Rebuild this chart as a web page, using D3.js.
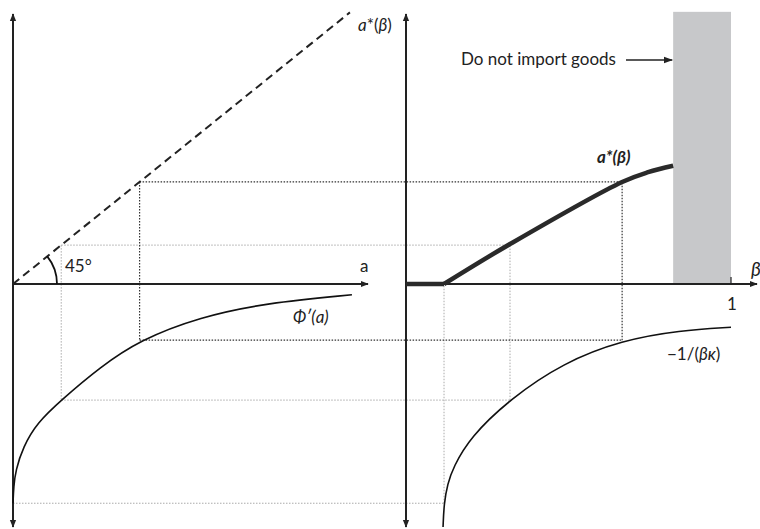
<!DOCTYPE html>
<html>
<head>
<meta charset="utf-8">
<script src="https://cdn.jsdelivr.net/npm/d3@7"></script>
<style>
  body { margin: 0; background: #fff; }
  svg { display: block; }
  text { font-family: Lato, "Open Sans", sans-serif; fill: #222; }
</style>
</head>
<body>
<div id="chart"></div>
<script>
// --- data --------------------------------------------------------------- //

// left panel: marginal cost Phi'(a), points [a, value]
var phiPoints = [[0, -4.06], [0.01, -3.75], [0.04, -3.45], [0.15, -3.02], [0.36, -2.57], [0.72, -2.15],
                 [1.30, -1.54], [1.89, -1.04], [2.79, -0.61], [3.79, -0.35], [5.06, -0.20]];

// 45 degree line a* = a
var diagPoints = [[0, 0], [5.03, 5.03]];

// right panel: a*(beta), points [beta, a*]
var aStarFlat = [[0, 0], [0.117, 0]];
var aStarRise = [[0.117, 0], [0.32, 0.74], [0.665, 1.89], [0.745, 2.07], [0.822, 2.19]];

// right panel: -1/(beta kappa), points [beta, value]
var hypPoints = [[0.114, -4.5], [0.117, -4.06], [0.128, -3.70], [0.145, -3.40], [0.197, -2.84], [0.32, -2.13],
                 [0.483, -1.46], [0.665, -1.04], [0.843, -0.86], [1.0, -0.80]];

// construction lines: a on the left, matching beta on the right
var guideA = [0, 0.72, 1.89];
var guideBeta = [0.117, 0.32, 0.665];
var guidePhi = [-4.06, -2.15, -1.04];

// region with no imports
var noImport = [0.822, 1.0];

// --- layout -------------------------------------------------------------- //

var width = 760, height = 529;

var y = d3.scaleLinear().domain([-4.5, 5.0]).range([527, 14]);
var xa = d3.scaleLinear().domain([0, 5.3]).range([13, 368]);
var xb = d3.scaleLinear().domain([0, 1]).range([406, 731]);

var svg = d3.select('#chart').append('svg')
    .attr('width', width)
    .attr('height', height);

var defs = svg.append('defs');
defs.append('marker')
    .attr('id', 'arrow')
    .attr('viewBox', '0 0 10 10')
    .attr('refX', 9).attr('refY', 5)
    .attr('markerWidth', 4).attr('markerHeight', 4)
    .attr('markerUnits', 'strokeWidth')
    .attr('orient', 'auto-start-reverse')
    .append('path')
    .attr('d', 'M0,1 L10,5 L0,9 z')
    .attr('fill', '#222');

defs.append('marker')
    .attr('id', 'arrowThin')
    .attr('viewBox', '0 0 10 10')
    .attr('refX', 9).attr('refY', 5)
    .attr('markerWidth', 7).attr('markerHeight', 7)
    .attr('markerUnits', 'strokeWidth')
    .attr('orient', 'auto')
    .append('path')
    .attr('d', 'M0,1.5 L10,5 L0,8.5 z')
    .attr('fill', '#222');

// --- no-import region ----------------------------------------------------- //

svg.append('rect')
    .attr('x', xb(noImport[0]))
    .attr('y', y(5.04))
    .attr('width', xb(noImport[1]) - xb(noImport[0]))
    .attr('height', y(0) - y(5.04))
    .attr('fill', '#c7c8ca');

// --- construction lines ---------------------------------------------------- //

function guide(x1, y1, x2, y2, dark) {
    svg.append('line')
        .attr('x1', x1).attr('y1', y1).attr('x2', x2).attr('y2', y2)
        .attr('stroke', dark ? '#333' : '#aaa')
        .attr('stroke-width', dark ? 1.2 : 1)
        .attr('stroke-dasharray', '1.5,1.5');
}

guideA.forEach(function (a, i) {
    var dark = (i == 2);
    if (i > 0) {
        guide(xa(a), y(a), xb(guideBeta[i]), y(a), dark);
        guide(xa(a), y(a), xa(a), y(guidePhi[i]), dark);
    }
    guide(xa(a), y(guidePhi[i]), xb(guideBeta[i]), y(guidePhi[i]), dark);
    guide(xb(guideBeta[i]), y(guidePhi[i]), xb(guideBeta[i]), y(i > 0 ? a : 0), dark);
});

// --- axes ----------------------------------------------------------------- //

function axisLine(x1, y1, x2, y2, both) {
    var l = svg.append('line')
        .attr('x1', x1).attr('y1', y1).attr('x2', x2).attr('y2', y2)
        .attr('stroke', '#222')
        .attr('stroke-width', 2)
        .attr('marker-end', 'url(#arrow)');
    if (both) l.attr('marker-start', 'url(#arrow)');
}

axisLine(xa(0), y.range()[0], xa(0), y.range()[1], true);
axisLine(xa(0), y(0), xa.range()[1], y(0), false);
axisLine(xb(0), y.range()[0], xb(0), y.range()[1], true);
axisLine(xb(0), y(0), 757, y(0), false);

// tick at beta = 1
svg.append('line')
    .attr('x1', xb(1)).attr('x2', xb(1))
    .attr('y1', y(0) - 7).attr('y2', y(0))
    .attr('stroke', '#222').attr('stroke-width', 1.2);

// --- curves --------------------------------------------------------------- //

var lineA = d3.line().x(function (d) { return xa(d[0]); }).y(function (d) { return y(d[1]); });
var lineB = d3.line().x(function (d) { return xb(d[0]); }).y(function (d) { return y(d[1]); });

svg.append('path')
    .attr('d', lineA(diagPoints))
    .attr('fill', 'none')
    .attr('stroke', '#222')
    .attr('stroke-width', 2)
    .attr('stroke-dasharray', '8,5');

svg.append('path')
    .attr('d', lineA.curve(d3.curveBasis)(phiPoints))
    .attr('fill', 'none')
    .attr('stroke', '#111')
    .attr('stroke-width', 1.6);

svg.append('path')
    .attr('d', lineB.curve(d3.curveLinear)(aStarFlat))
    .attr('fill', 'none')
    .attr('stroke', '#2a2a2a')
    .attr('stroke-width', 4.5);

svg.append('path')
    .attr('d', lineB.curve(d3.curveBasis)(hypPoints))
    .attr('fill', 'none')
    .attr('stroke', '#111')
    .attr('stroke-width', 1.6);

svg.append('path')
    .attr('d', lineB.curve(d3.curveCatmullRom.alpha(0.5))(aStarRise))
    .attr('fill', 'none')
    .attr('stroke', '#2a2a2a')
    .attr('stroke-width', 4.5);

// 45 degree arc
var arcR = 44;
var ang = Math.atan2(y(0) - y(diagPoints[1][1]), xa(diagPoints[1][0]) - xa(0));
svg.append('path')
    .attr('d', 'M' + (xa(0) + arcR) + ',' + y(0) +
        ' A' + arcR + ',' + arcR + ' 0 0 0 ' +
        (xa(0) + arcR * Math.cos(ang)) + ',' + (y(0) - arcR * Math.sin(ang)))
    .attr('fill', 'none')
    .attr('stroke', '#111')
    .attr('stroke-width', 1.8);

// --- labels --------------------------------------------------------------- //

function label(txt, x, yy, opts) {
    opts = opts || {};
    var t = svg.append('text')
        .attr('x', x).attr('y', yy)
        .attr('font-size', opts.size || 17)
        .attr('text-anchor', opts.anchor || 'start');
    if (opts.italic) t.attr('font-style', 'italic');
    if (opts.bold) t.attr('font-weight', 'bold');
    t.html(txt);
    return t;
}

label('45°', 65, 272);
label('a', 360, 272);
label('Φ′(a)', 293, 323, { italic: true });
label('<tspan font-style="italic">a</tspan>*(<tspan font-style="italic">β</tspan>)', 358, 31);
label('Do not import goods', 461, 65);
label('a*(β)', 597, 163, { italic: true, bold: true });
label('1', 732, 310, { anchor: 'middle' });
label('−1/(<tspan font-style="italic">β</tspan><tspan font-style="italic">κ</tspan>)', 667, 360);
label('β', 751, 276, { italic: true, size: 19 });

svg.append('line')
    .attr('x1', 626).attr('y1', 60)
    .attr('x2', xb(noImport[0]) - 1).attr('y2', 60)
    .attr('stroke', '#222')
    .attr('stroke-width', 1.3)
    .attr('marker-end', 'url(#arrowThin)');
</script>
</body>
</html>
